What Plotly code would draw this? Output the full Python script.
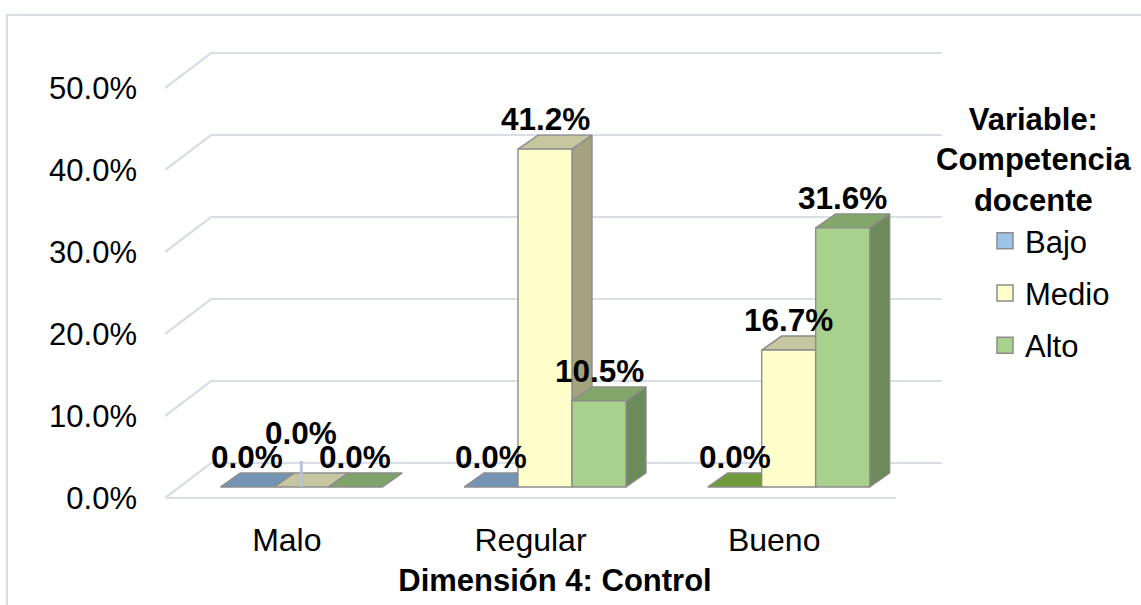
import plotly.graph_objects as go

# ---------------- data ----------------
categories = ["Malo", "Regular", "Bueno"]
series_names = ["Bajo", "Medio", "Alto"]
bajo = [0.0, 0.0, 0.0]
medio = [0.0, 41.2, 16.7]
alto = [0.0, 10.5, 31.6]
y_tick_values = [0, 10, 20, 30, 40, 50]
y_tick_labels = ["0.0%", "10.0%", "20.0%", "30.0%", "40.0%", "50.0%"]
x_axis_title = "Dimensión 4: Control"
legend_title = "Variable:<br>Competencia<br>docente"

series_values = [bajo, medio, alto]

# ---------------- styles ----------------
FONT = "Arial, Liberation Sans, sans-serif"
FRONT = ["#9dc3e6", "#ffffcc", "#a9d18e"]
SIDE = ["#5f7f9f", "#a5a27f", "#6d8a5a"]
TOP = [["#7594b4", "#7594b4", "#6f9b3c"],
       ["#c6c6a0", "#c6c6a0", "#c6c6a0"],
       ["#80a36b", "#84a66b", "#84a66b"]]
EDGE = "#8c8c8c"
GRID = "#d9dde6"

W, H = 1141, 605
L, R, T, B = 165, 196, 40, 95
PW, PH = W - L - R, H - T - B
PX_CAT = 243.67          # pixels per category (front plane)
PX_PCT = 8.2             # pixels per percentage point
ZERO_PX = 498            # pixel row of the front 0% line


def ux(px):
    return px / PX_CAT


def uy(px):
    return px / PX_PCT


x_range = [-0.5, -0.5 + ux(PW)]
y_range = [-uy(T + PH - ZERO_PX), uy(ZERO_PX - T)]

FDX, FDY = ux(46), uy(35)      # floor depth
BOX, BOY = ux(14.5), uy(11)    # bar front offset into the floor
BDX, BDY = ux(20), uy(14)      # bar depth
BW = ux(54)                    # bar width

fig = go.Figure()

# ---------------- 3D gridlines ----------------
n = len(categories)
for v in y_tick_values:
    xs = [-0.5, -0.5 + FDX, n - 0.5 + FDX]
    ys = [v, v + FDY, v + FDY]
    if v == 0:
        xs = [n - 0.5] + xs
        ys = [0] + ys
    fig.add_trace(go.Scatter(x=xs, y=ys, mode="lines",
                             line=dict(color=GRID, width=2.2),
                             hoverinfo="skip", showlegend=False))


def poly(xs, ys, color):
    fig.add_trace(go.Scatter(x=xs + [xs[0]], y=ys + [ys[0]], mode="lines",
                             fill="toself", fillcolor=color,
                             line=dict(color=EDGE, width=1.4),
                             hoverinfo="skip", showlegend=False))


annotations = []
label_nudge = {(0, 1): 24}   # raised label (Excel moved it, with a leader line)

for i in range(n):
    for j, vals in enumerate(series_values):
        v = vals[i]
        xl = i + BOX + (j - 1.5) * BW
        xr = xl + BW
        yb = BOY
        yt = BOY + v
        if v > 0:
            poly([xr, xr, xr + BDX, xr + BDX], [yb, yt, yt + BDY, yb + BDY], SIDE[j])
        poly([xl, xr, xr + BDX, xl + BDX], [yt, yt, yt + BDY, yt + BDY], TOP[j][i])
        if v > 0:
            poly([xl, xr, xr, xl], [yb, yb, yt, yt], FRONT[j])
        nudge = label_nudge.get((i, j), 0)
        if nudge:
            cx = xl + BW / 2
            fig.add_trace(go.Scatter(x=[cx, cx], y=[yb, yt + BDY + uy(nudge - 12)],
                                     mode="lines", line=dict(color="#b8c3d4", width=3),
                                     hoverinfo="skip", showlegend=False))
        annotations.append(dict(
            x=xl + BW / 2, y=yt + BDY, xref="x", yref="y",
            text=f"<b>{v:.1f}%</b>", showarrow=False,
            xanchor="center", yanchor="bottom", yshift=nudge - 4,
            font=dict(family=FONT, size=31.5, color="#000000")))

# ---------------- legend entries ----------------
for j, name in enumerate(series_names):
    fig.add_trace(go.Scatter(x=[None], y=[None], mode="markers", name=name,
                             legendgroup=name,
                             marker=dict(symbol="square", size=16, color=FRONT[j],
                                         line=dict(color=EDGE, width=1.5))))

annotations.append(dict(
    x=(1033 - L) / PW, y=(T + PH - 160) / PH, xref="paper", yref="paper",
    text=f"<b>{legend_title}</b>",
    showarrow=False, xanchor="center", yanchor="middle", align="center",
    font=dict(family=FONT, size=31, color="#000000")))

fig.update_layout(
    width=W, height=H,
    margin=dict(l=L, r=R, t=T, b=B, pad=0),
    paper_bgcolor="white", plot_bgcolor="white",
    font=dict(family=FONT, size=31, color="#000000"),
    showlegend=True,
    legend=dict(xref="container", yref="container", x=985 / W, y=1 - 214 / H,
                xanchor="left", yanchor="top", tracegroupgap=9,
                font=dict(family=FONT, size=31, color="#000000"),
                bgcolor="rgba(0,0,0,0)", itemclick=False),
    annotations=annotations,
    shapes=[dict(type="rect", xref="paper", yref="paper",
                 x0=(7 - L) / PW, x1=1.5, y0=-0.5, y1=1 + (T - 15) / PH,
                 line=dict(color="#d9dde6", width=2), layer="below")],
)

fig.update_xaxes(range=x_range, tickvals=list(range(n)), ticktext=categories,
                 showgrid=False, zeroline=False, showline=False, ticks="",
                 tickfont=dict(family=FONT, size=32), ticklabelstandoff=8,
                 title=dict(text=f"<b>{x_axis_title}</b>", standoff=12,
                            font=dict(family=FONT, size=31)))
fig.update_yaxes(range=y_range, tickvals=y_tick_values, ticktext=y_tick_labels,
                 showgrid=False, zeroline=False, showline=False, ticks="",
                 tickfont=dict(family=FONT, size=31), ticklabelstandoff=27)

fig.write_html("out.html", config={"displayModeBar": False},
               post_script="document.body.style.margin='0';"
                           "document.body.style.padding='0';")
